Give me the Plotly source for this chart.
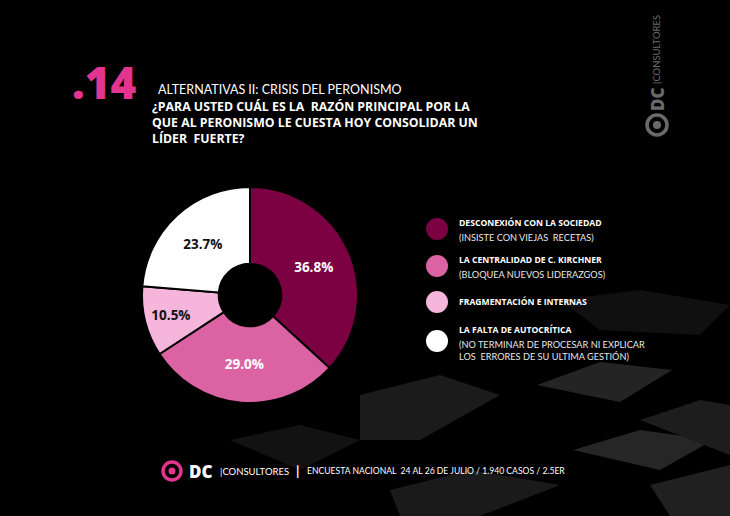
import plotly.graph_objects as go

W, H = 730, 516

# ---- data ----
labels = ["DESCONEXIÓN CON LA SOCIEDAD", "LA CENTRALIDAD DE C. KIRCHNER",
          "FRAGMENTACIÓN E INTERNAS", "LA FALTA DE AUTOCRÍTICA"]
sublabels = ["(INSISTE CON VIEJAS  RECETAS)", "(BLOQUEA NUEVOS LIDERAZGOS)", "",
             "(NO TERMINAR DE PROCESAR NI EXPLICAR<br>LOS  ERRORES DE SU ULTIMA GESTIÓN)"]
values = [36.8, 29.0, 10.5, 23.7]
colors = ["#7b0142", "#dc63a3", "#f6b5da", "#ffffff"]
text_colors = ["#ffffff", "#ffffff", "#111111", "#111111"]

PINK = "#e2358f"
FONT_B = "Open Sans"

def px(x):
    return x / W

def py(y):
    return 1 - y / H

fig = go.Figure()

fig.add_trace(go.Pie(
    labels=labels, values=values, sort=False, direction="clockwise", rotation=0,
    hole=0.29,
    marker=dict(colors=colors, line=dict(color="#000000", width=2)),
    texttemplate="%{value:.1f}%", textposition="inside",
    insidetextorientation="horizontal",
    textfont=dict(family=FONT_B, size=13.5, color=text_colors, weight="bold"),
    domain=dict(x=[px(142), px(358)], y=[py(403), py(187)]),
    showlegend=False, hoverinfo="label+value",
))

shapes = []
annotations = []

# decorative background cubes (subtle)
cube_tops = [
    ([(360, 395), (440, 375), (500, 395), (420, 440), (360, 440)], "#1b1b1b"),
    ([(537, 385), (600, 362), (672, 370), (620, 402)], "#242424"),
    ([(573, 450), (640, 430), (713, 440), (660, 470)], "#262626"),
    ([(640, 420), (700, 400), (730, 405), (730, 455)], "#1d1d1d"),
    ([(390, 490), (470, 470), (560, 485), (480, 516), (400, 516)], "#1a1a1a"),
    ([(560, 300), (640, 290), (730, 305), (700, 335), (600, 330)], "#101010"),
    ([(650, 485), (730, 465), (730, 516), (670, 516)], "#202020"),
    ([(230, 440), (300, 425), (360, 440), (300, 470)], "#121212"),
]
for pts, c in cube_tops:
    path = "M " + " L ".join(f"{px(x)} {py(y)}" for x, y in pts) + " Z"
    shapes.append(dict(type="path", xref="paper", yref="paper", path=path,
                       fillcolor=c, line=dict(width=0), layer="below"))

# header
annotations.append(dict(x=px(70), y=py(82), xref="paper", yref="paper", text=".14",
                        showarrow=False, xanchor="left", yanchor="middle",
                        font=dict(family=FONT_B, size=44, color=PINK, weight=800)))
annotations.append(dict(x=px(156), y=py(90), xref="paper", yref="paper",
                        text="ALTERNATIVAS II: CRISIS DEL PERONISMO",
                        showarrow=False, xanchor="left", yanchor="middle",
                        font=dict(family="Lato", size=12.5, color="#ffffff")))
q_lines = ["¿PARA USTED CUÁL ES LA  RAZÓN PRINCIPAL POR LA",
           "QUE AL PERONISMO LE CUESTA HOY CONSOLIDAR UN",
           "LÍDER  FUERTE?"]
annotations.append(dict(x=px(150), y=py(96), xref="paper", yref="paper",
                        text="<br>".join(f"<b>{t}</b>" for t in q_lines),
                        showarrow=False, xanchor="left", yanchor="top", align="left",
                        font=dict(family=FONT_B, size=12.3, color="#ffffff")))

# custom legend
leg_y = [229, 266, 302, 341]
for i, (lab, sub, col) in enumerate(zip(labels, sublabels, colors)):
    cy = leg_y[i]
    r = 11
    shapes.append(dict(type="circle", xref="paper", yref="paper",
                       x0=px(437 - r), x1=px(437 + r), y0=py(cy + r), y1=py(cy - r),
                       fillcolor=col, line=dict(width=0)))
    ty = cy - 6 if sub else cy
    if i == 3:
        ty = cy - 11
    annotations.append(dict(x=px(457), y=py(ty), xref="paper", yref="paper",
                            text=f"<b>{lab}</b>", showarrow=False, xanchor="left",
                            yanchor="middle",
                            font=dict(family=FONT_B, size=8.6, color="#ffffff")))
    if sub:
        annotations.append(dict(x=px(457), y=py(ty + 7), xref="paper", yref="paper",
                                text=sub, showarrow=False, xanchor="left", yanchor="top",
                                align="left",
                                font=dict(family="Lato", size=9.2, color="#e8e8e8")))

# footer logo
shapes.append(dict(type="circle", xref="paper", yref="paper",
                   x0=px(163), x1=px(181), y0=py(480), y1=py(462),
                   fillcolor="rgba(0,0,0,0)", line=dict(color=PINK, width=3.5)))
shapes.append(dict(type="circle", xref="paper", yref="paper",
                   x0=px(168.5), x1=px(175.5), y0=py(474.5), y1=py(467.5),
                   fillcolor=PINK, line=dict(width=0)))
annotations.append(dict(x=px(187), y=py(471), xref="paper", yref="paper", text="DC",
                        showarrow=False, xanchor="left", yanchor="middle",
                        font=dict(family=FONT_B, size=17, color="#ffffff", weight=800)))
annotations.append(dict(x=px(218), y=py(471), xref="paper", yref="paper",
                        text="|CONSULTORES", showarrow=False, xanchor="left",
                        yanchor="middle", font=dict(family="Lato", size=9.5, color="#ffffff")))
annotations.append(dict(x=px(294), y=py(471), xref="paper", yref="paper", text="<b>|</b>",
                        showarrow=False, xanchor="left", yanchor="middle",
                        font=dict(family="Lato", size=13, color="#ffffff")))
annotations.append(dict(x=px(305), y=py(471), xref="paper", yref="paper",
                        text="ENCUESTA NACIONAL  24 AL 26 DE JULIO / 1.940 CASOS / 2.5ER",
                        showarrow=False, xanchor="left", yanchor="middle",
                        font=dict(family="Lato", size=8.6, color="#ffffff")))

# vertical logo right
GRAY = "#6a6a6a"
shapes.append(dict(type="circle", xref="paper", yref="paper",
                   x0=px(647), x1=px(667), y0=py(135), y1=py(115),
                   fillcolor="rgba(0,0,0,0)", line=dict(color=GRAY, width=3.5)))
shapes.append(dict(type="circle", xref="paper", yref="paper",
                   x0=px(653), x1=px(661), y0=py(129), y1=py(121),
                   fillcolor=GRAY, line=dict(width=0)))
annotations.append(dict(x=px(657), y=py(99), xref="paper", yref="paper", text="DC",
                        showarrow=False, textangle=-90, xanchor="center", yanchor="middle",
                        font=dict(family=FONT_B, size=17, color=GRAY, weight=800)))
annotations.append(dict(x=px(657), y=py(50), xref="paper", yref="paper",
                        text="|CONSULTORES", showarrow=False, textangle=-90,
                        xanchor="center", yanchor="middle",
                        font=dict(family="Lato", size=9.5, color=GRAY)))

fig.update_layout(
    width=W, height=H, margin=dict(l=0, r=0, t=0, b=0),
    paper_bgcolor="#000000", plot_bgcolor="#000000",
    shapes=shapes, annotations=annotations,
)

fig.write_html("out.html", config={"displayModeBar": False},
               post_script="document.body.style.margin='0';document.body.style.background='#000';")
